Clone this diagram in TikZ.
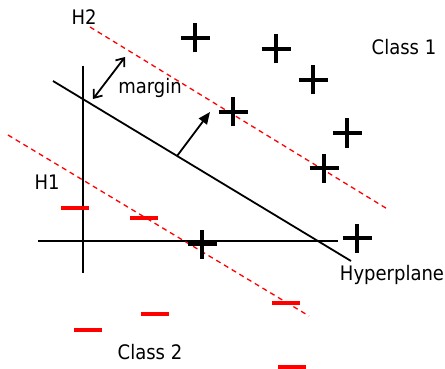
\documentclass[tikz,border=0pt]{standalone}
\usepackage{fontspec}
\setmainfont[FakeStretch=0.9]{DejaVu Sans}
\usetikzlibrary{arrows.meta}
\begin{document}
\begin{tikzpicture}[x=1pt,y=-1pt,
  plus/.style={line width=4.5pt,black},
  minus/.style={line width=3.6pt,red},
  marg/.style={red,line width=1.3pt,dash pattern=on 5pt off 4pt},
  lbl/.style={font=\fontsize{20}{22}\selectfont,inner sep=0pt}]
\useasboundingbox (0,0) rectangle (445,369);
% axes
\coordinate (vt) at (83,66); \coordinate (vb) at (83,273);
\coordinate (hl) at (38,241); \coordinate (hr) at (338,241);
\draw[line width=1.4pt] (vt) -- (vb);
\draw[line width=1.4pt] (hl) -- (hr);
% margins
\coordinate (h2a) at (90,27); \coordinate (h2b) at (389,210);
\coordinate (h1a) at (8,135); \coordinate (h1b) at (309,316);
\draw[marg] (h2a) -- (h2b);
\draw[marg] (h1a) -- (h1b);
% hyperplane
\coordinate (hpa) at (53,81); \coordinate (hpb) at (351,261);
\draw[line width=1.8pt] (hpa) -- (hpb);
% normal arrow
\coordinate (na) at (177,156); \coordinate (nb) at (210,112);
\draw[line width=1.8pt,-{Triangle[length=12pt,width=10pt]}] (na) -- (nb);
% margin arrow
\coordinate (ma) at (93,99); \coordinate (mb) at (125,57);
\draw[line width=1.8pt,{Straight Barb[length=7pt,width=11pt]}-{Straight Barb[length=7pt,width=11pt]}] (ma) -- (mb);
% pluses
\foreach \n/\x/\y in {p1/195/38,p2/276/49,p3/313/80,p4/233/112,p5/347/133,p6/324/168,p7/357/238,p8/202/244}{
  \coordinate (\n) at (\x,\y);
  \draw[plus] ([xshift=-14.5pt]\n) -- ([xshift=14.5pt]\n);
  \draw[plus] ([yshift=-14.5pt]\n) -- ([yshift=14.5pt]\n);
}
% minuses
\foreach \n/\x/\y in {m1/75/208,m2/144/218,m3/286/303,m4/155/314,m5/88/330,m6/292/367}{
  \coordinate (\n) at (\x,\y);
  \draw[minus] ([xshift=-14pt]\n) -- ([xshift=14pt]\n);
}
% labels
\node[lbl] (lh2) at (84,17) {H2};
\node[lbl] (lh1) at (47,182) {H1};
\node[lbl] (lmargin) at (150,88) {margin};
\node[lbl] (lc1) at (404,47) {Class 1};
\node[lbl] (lhyp) at (392,275) {Hyperplane};
\node[lbl] (lc2) at (150,352) {Class 2};
\end{tikzpicture}
\end{document}
